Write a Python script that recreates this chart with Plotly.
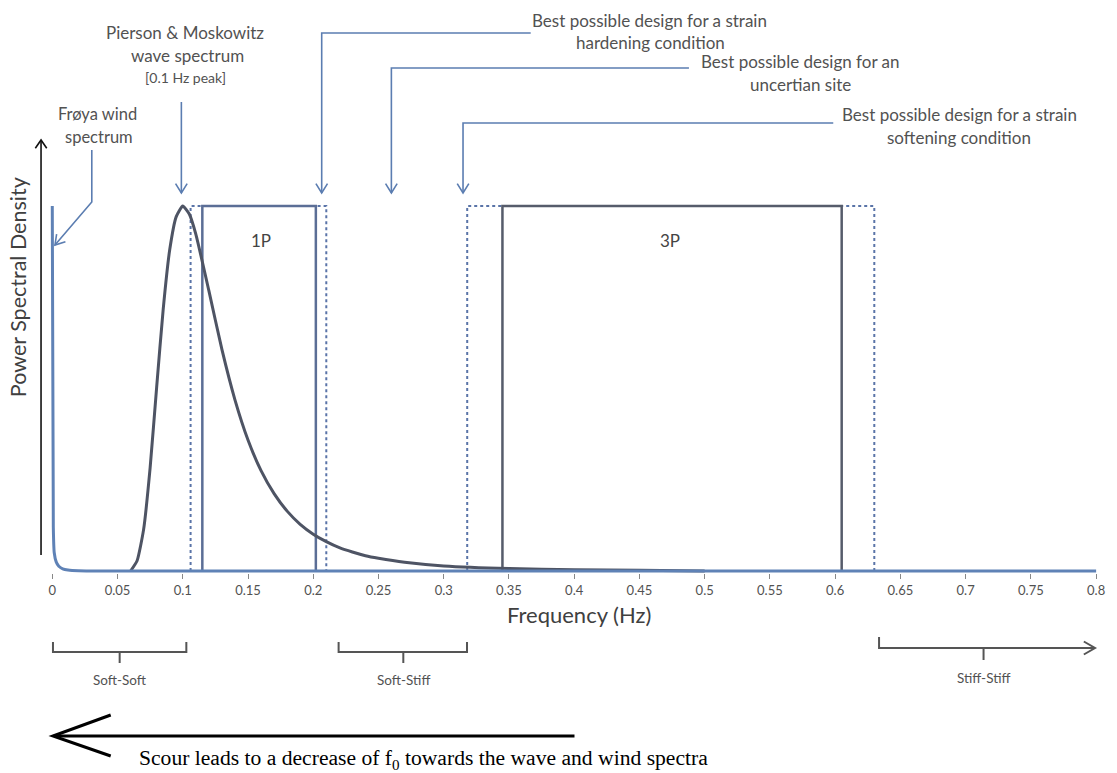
import math
import plotly.graph_objects as go

# ---------------- data ----------------
# Frøya wind spectrum (normalised PSD)
wind_freq = [0.0, 0.0008, 0.0015, 0.003, 0.005, 0.008, 0.012, 0.02, 0.05, 0.2, 0.4, 0.6, 0.8]
wind_psd = [1.0, 0.12, 0.05, 0.025, 0.013, 0.006, 0.003, 0.001, 0.0, 0.0, 0.0, 0.0, 0.0]

# Pierson & Moskowitz wave spectrum (normalised PSD, 0.1 Hz peak)
pm_freq = [0.06, 0.065, 0.07, 0.075, 0.08, 0.085, 0.09, 0.095, 0.1, 0.105, 0.11, 0.12,
           0.13, 0.14, 0.15, 0.16, 0.17, 0.18, 0.19, 0.2, 0.21, 0.22, 0.23, 0.24, 0.25,
           0.27, 0.3, 0.35, 0.4, 0.45, 0.5]
pm_psd = [0.0, 0.028, 0.114, 0.283, 0.504, 0.717, 0.880, 0.971, 1.0, 0.978, 0.923, 0.768,
          0.607, 0.469, 0.359, 0.275, 0.212, 0.164, 0.128, 0.101, 0.0805, 0.064, 0.052, 0.042,
          0.035, 0.024, 0.014, 0.0066, 0.0034, 0.0019, 0.0]

# frequency bands [start, end] (Hz)
band_1p = [0.115, 0.202]
band_1p_wide = [0.106, 0.21]
band_3p = [0.345, 0.605]
band_3p_wide = [0.318, 0.63]
band_height = 1.0

tick_vals = [0, 0.05, 0.1, 0.15, 0.2, 0.25, 0.3, 0.35, 0.4, 0.45, 0.5, 0.55, 0.6, 0.65, 0.7, 0.75, 0.8]
tick_text = ["0", "0.05", "0.1", "0.15", "0.2", "0.25", "0.3", "0.35", "0.4", "0.45", "0.5",
             "0.55", "0.6", "0.65", "0.7", "0.75", "0.8"]

# ---------------- layout helpers ----------------
W, H = 1117, 773
L, R, T, B = 48, 1105, 150, 573
X0PX, XS = 52.3, 1311.0      # pixel of f=0, pixels per Hz
Y0PX, YS = 571.0, 365.0      # pixel of psd=0, pixels per unit

x_range = [(L - X0PX) / XS, (R - X0PX) / XS]
y_range = [(Y0PX - B) / YS, (Y0PX - T) / YS]


def px(x):
    return (x - L) / (R - L)


def py(y):
    return (B - y) / (B - T)


def path(pts):
    return "M " + " L ".join(f"{px(x):.5f},{py(y):.5f}" for x, y in pts)


BLUE = "#5b7db1"
DARK = "#4e5464"
GREY = "#525252"
FONT = "Lato"

fig = go.Figure()


def rect_trace(band, color, dash, width):
    fig.add_trace(go.Scatter(
        x=[band[0], band[0], band[1], band[1]],
        y=[0, band_height, band_height, 0],
        mode="lines", line=dict(color=color, width=width, dash=dash),
        hoverinfo="skip", showlegend=False))


rect_trace(band_1p_wide, "#5a74a8", "dot", 2)
rect_trace(band_3p_wide, "#5a74a8", "dot", 2)
rect_trace(band_1p, "#5b6e96", "solid", 2.5)
rect_trace(band_3p, "#565c6b", "solid", 2.5)

fig.add_trace(go.Scatter(x=pm_freq, y=pm_psd, mode="lines",
                         line=dict(color=DARK, width=3, shape="spline", smoothing=0.5),
                         showlegend=False, hoverinfo="skip"))
fig.add_trace(go.Scatter(x=wind_freq, y=wind_psd, mode="lines",
                         line=dict(color="#5f82b6", width=3, shape="spline", smoothing=0.5),
                         showlegend=False, hoverinfo="skip"))

shapes = []


def line_shape(pts, color, width):
    shapes.append(dict(type="path", xref="paper", yref="paper", path=path(pts),
                       line=dict(color=color, width=width)))


def arrow_head(tip, frm, color, width, length=11, ang=32):
    dx, dy = tip[0] - frm[0], tip[1] - frm[1]
    n = math.hypot(dx, dy)
    ux, uy = dx / n, dy / n
    pts = []
    for s in (-1, 1):
        a = math.radians(ang) * s
        rx = ux * math.cos(a) - uy * math.sin(a)
        ry = ux * math.sin(a) + uy * math.cos(a)
        pts.append((tip[0] - rx * length, tip[1] - ry * length))
    line_shape([pts[0], tip, pts[1]], color, width)


def callout(pts, color=BLUE, width=1.6):
    line_shape(pts, color, width)
    arrow_head(pts[-1], pts[-2], color, width)


# callout arrows
callout([(92, 150), (92, 202), (55, 245)])
callout([(182, 102), (182, 193)])
callout([(533, 33), (323, 33), (323, 193)])
callout([(692, 68), (393, 68), (393, 193)])
callout([(837, 123), (465, 123), (465, 193)])

# y-axis arrow
line_shape([(41, 555), (41, 140)], "#111111", 1.6)
arrow_head((41, 140), (41, 555), "#111111", 1.6, length=10, ang=35)

# brackets
BR = "#555555"
line_shape([(53, 642), (53, 652), (187, 652), (187, 642)], BR, 2)
line_shape([(120, 652), (120, 663)], BR, 2)
line_shape([(340, 642), (340, 652), (469, 652), (469, 642)], BR, 2)
line_shape([(405, 652), (405, 663)], BR, 2)
line_shape([(883, 637), (883, 648), (1100, 648)], BR, 2)
arrow_head((1100, 648), (883, 648), BR, 2, length=13, ang=30)
line_shape([(988, 648), (988, 660)], BR, 2)

# scour arrow
line_shape([(577, 736), (54, 736)], "#000000", 3)
line_shape([(111, 715), (53, 736), (111, 756)], "#000000", 3)

annotations = []


def text(x, y, s, size=17, color=GREY, family=FONT, angle=0, xanchor="center"):
    annotations.append(dict(x=px(x), y=py(y), xref="paper", yref="paper", text=s,
                            showarrow=False, xanchor=xanchor, yanchor="middle",
                            textangle=angle, font=dict(size=size, color=color, family=family)))


text(98, 114, "Frøya wind", size=16.5)
text(99, 137, "spectrum", size=16.5)
text(186, 33, "Pierson &amp; Moskowitz")
text(188, 55, "wave spectrum")
text(186, 77, "[0.1 Hz peak]", size=14)
text(652, 21, "Best possible design for a strain")
text(653, 43, "hardening condition")
text(804, 62, "Best possible design for an")
text(804, 84, "uncertian site")
text(964, 114, "Best possible design for a strain")
text(963, 137, "softening condition")
text(262, 240, "1P", size=17, color="#444444")
text(673, 240, "3P", size=17, color="#444444")
text(582, 614, "Frequency (Hz)", size=22, color="#404040")
text(18, 287, "Power Spectral Density", size=21.5, color="#404040", angle=-90)
text(120, 680, "Soft-Soft", size=13.5)
text(405, 680, "Soft-Stiff", size=13.5)
text(988, 678, "Stiff-Stiff", size=13.5)
text(137, 759, "Scour leads to a decrease of f<sub>0</sub> towards the wave and wind spectra",
     size=21.6, color="#000000", family="Liberation Serif", xanchor="left")

fig.update_layout(
    width=W, height=H,
    margin=dict(l=L, r=W - R, t=T, b=H - B, pad=0),
    paper_bgcolor="white", plot_bgcolor="white",
    shapes=shapes, annotations=annotations,
    xaxis=dict(range=x_range, tickvals=tick_vals, ticktext=tick_text, ticks="outside",
               ticklen=5, tickcolor="#888888", showgrid=False, zeroline=False, showline=False,
               tickfont=dict(size=13, color=GREY, family=FONT), fixedrange=True),
    yaxis=dict(range=y_range, showticklabels=False, showgrid=False, zeroline=False,
               showline=False, ticks="", fixedrange=True),
    showlegend=False,
)

fig.write_html("out.html")
